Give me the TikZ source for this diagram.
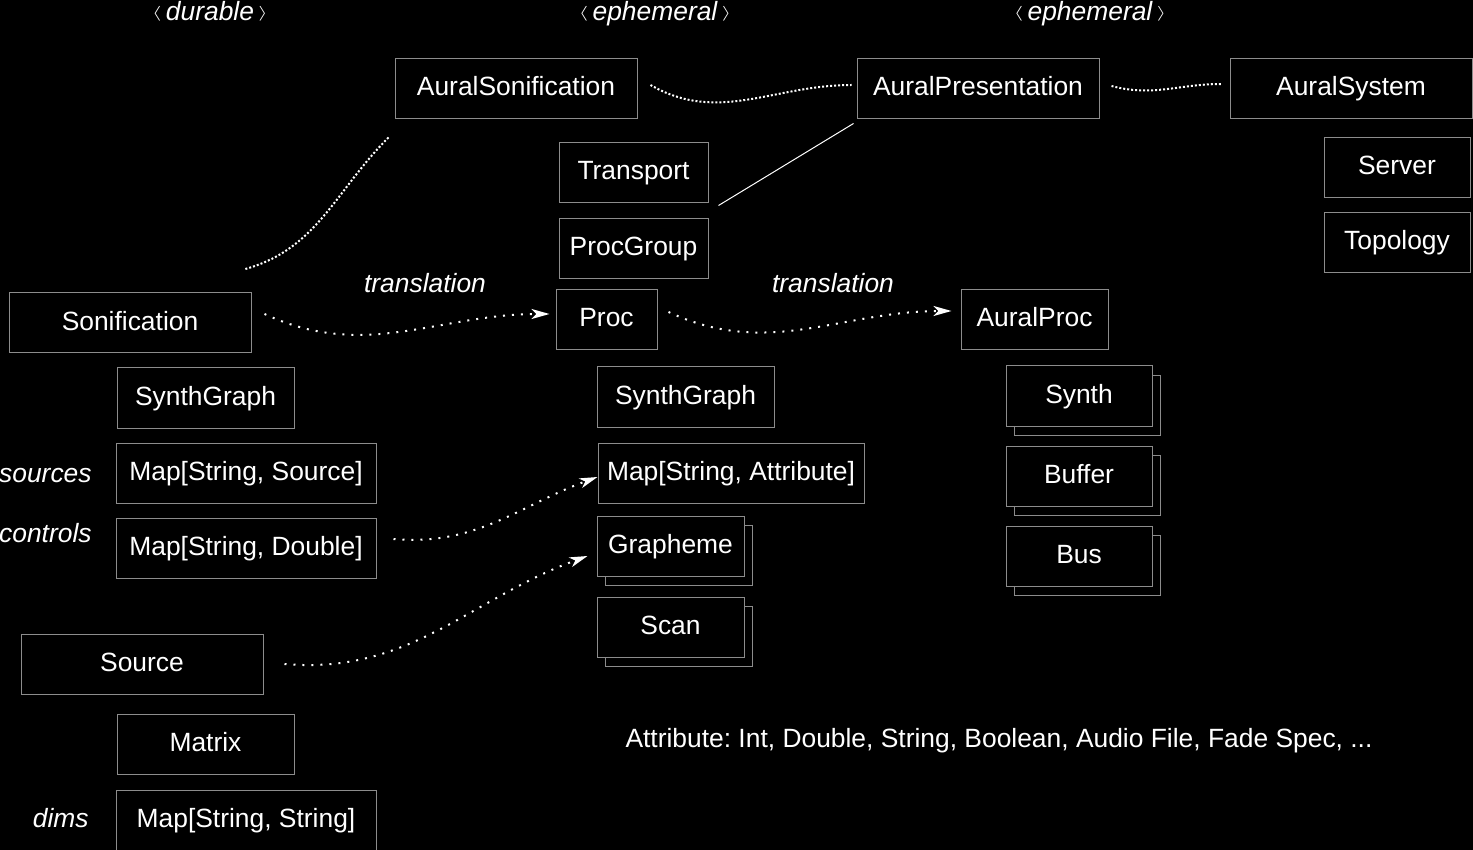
\documentclass[tikz,border=0pt]{standalone}
\usepackage{fontspec}
\setmainfont{Liberation Sans}
\usetikzlibrary{positioning}
\usetikzlibrary{arrows.meta,shadows}
\definecolor{boxgray}{RGB}{140,140,140}
\newcommand{\kindof}[1]{\raisebox{0.12em}{\scalebox{1}[0.62]{$\langle$}}\,#1\,\raisebox{0.12em}{\scalebox{1}[0.62]{$\rangle$}}}
\frenchspacing

\begin{document}
\begin{tikzpicture}[x=0.5pt, y=-0.5pt,
    every node/.style={text=white, font=\fontsize{13.2}{15}\selectfont},
    box/.style={draw=boxgray, line width=0.5pt, fill=black, minimum height=30pt,
      inner sep=0pt, text height=9.5pt, text depth=2.5pt},
    stack/.style={box, copy shadow={shadow xshift=4pt, shadow yshift=-4.5pt,
      draw=boxgray, fill=black, line width=0.5pt}},
    lbl/.style={inner sep=0pt, font=\fontsize{13.2}{15}\selectfont\itshape},
    link/.style={white, line width=1pt, dash pattern=on 1pt off 1pt},
    trans/.style={white, line width=1pt, dash pattern=on 1pt off 3.5pt,
      -{Stealth[length=9pt, width=5pt, inset=2.5pt]}}]
            \useasboundingbox (0,0) rectangle (1473,850);
            \fill[black] (-20,-20) rectangle (1493,870);

            % Nodos
            \node[box, minimum width=121pt] (asoni) at (516,89) {AuralSonification};
            \node[box, minimum width=121pt] (apres) at (978,89) {AuralPresentation};
            \node[box, minimum width=121pt] (asys) at (1351,89) {AuralSystem};
            \node[box, minimum width=74.5pt] (transport) at (633.5,173) {Transport};
            \node[box, minimum width=74.5pt] (procgroup) at (633.5,249) {ProcGroup};
            \node[box, minimum width=73pt] (server) at (1397,168) {Server};
            \node[box, minimum width=73pt] (topology) at (1397,243) {Topology};
            \node[box, minimum width=121pt] (soni) at (130,323) {Sonification};
            \node[box, minimum width=50.5pt] (proc) at (606.5,320) {Proc};
            \node[box, minimum width=73.5pt] (aproc) at (1034.5,320) {AuralProc};
            \node[box, minimum width=88.5pt] (sgraphA) at (205.5,398) {SynthGraph};
            \node[box, minimum width=88.5pt] (sgraphB) at (685.5,397) {SynthGraph};
            \node[box, minimum width=130pt] (msource) at (246,473) {Map[String, Source]};
            \node[box, minimum width=133pt] (mattr) at (731,473) {Map[String, Attribute]};
            \node[box, minimum width=130pt] (mdouble) at (246,548) {Map[String, Double]};
            \node[stack, minimum width=73.5pt] (grapheme) at (670.5,546) {Grapheme};
            \node[stack, minimum width=73.5pt] (scan) at (670.5,627) {Scan};
            \node[stack, minimum width=73pt] (synth) at (1079,396) {Synth};
            \node[stack, minimum width=73pt] (buffer) at (1079,476) {Buffer};
            \node[stack, minimum width=73pt] (bus) at (1079,556) {Bus};
            \node[box, minimum width=121pt] (source) at (142,664) {Source};
            \node[box, minimum width=88.5pt] (matrix) at (205.5,744) {Matrix};
            \node[box, minimum width=130pt] (mstring) at (246,820) {Map[String, String]};

            % Etiquetas
            \node[lbl, anchor=base] (durable) at (210,21) {\kindof{durable}};
            \node[lbl, anchor=base] (ephA) at (655,21) {\kindof{ephemeral}};
            \node[lbl, anchor=base] (ephB) at (1090,21) {\kindof{ephemeral}};
            \node[lbl] (transA) at (425,283) {translation};
            \node[lbl] (transB) at (833,283) {translation};
            \node[lbl, anchor=east] (sources) at (92,476) {sources};
            \node[lbl, anchor=east] (controls) at (92,533) {controls};
            \node[lbl, anchor=east] (dims) at (89,818) {dims};
            \node[inner sep=0pt] (attrs) at (999,741) {Attribute: Int, Double, String, Boolean, Audio File, Fade Spec, ...};

            % Aristas
            \draw[link] ([shift={(-6,18)}]asoni.south west) to[out=-135, in=15] ([shift={(-8,-23)}]soni.north east);
            \draw[link] ([shift={(13,-4)}]asoni.east) to[out=-30, in=180] ([shift={(-5,-4)}]apres.west);
            \draw[link] ([shift={(12,-3)}]apres.east) to[out=-15, in=180] ([shift={(-8,-5)}]asys.west);
            \draw[white, line width=0.5pt] ([shift={(-3,4)}]apres.south west) -- ([shift={(10,2)}]transport.south east);
            \draw[trans] ([shift={(13,-9)}]soni.east) to[out=-25, in=180] ([shift={(-6,-6)}]proc.west);
            \draw[trans] ([shift={(11,-8)}]proc.east) to[out=-25, in=180] ([shift={(-9,-9)}]aproc.west);
            \draw[trans] ([shift={(17,-9)}]mdouble.east) to[out=-5, in=200] ([shift={(0,4)}]mattr.west);
            \draw[trans] ([shift={(21,0)}]source.east) to[out=-5, in=200] ([shift={(-9,10)}]grapheme.west);
          \end{tikzpicture}
\end{document}
